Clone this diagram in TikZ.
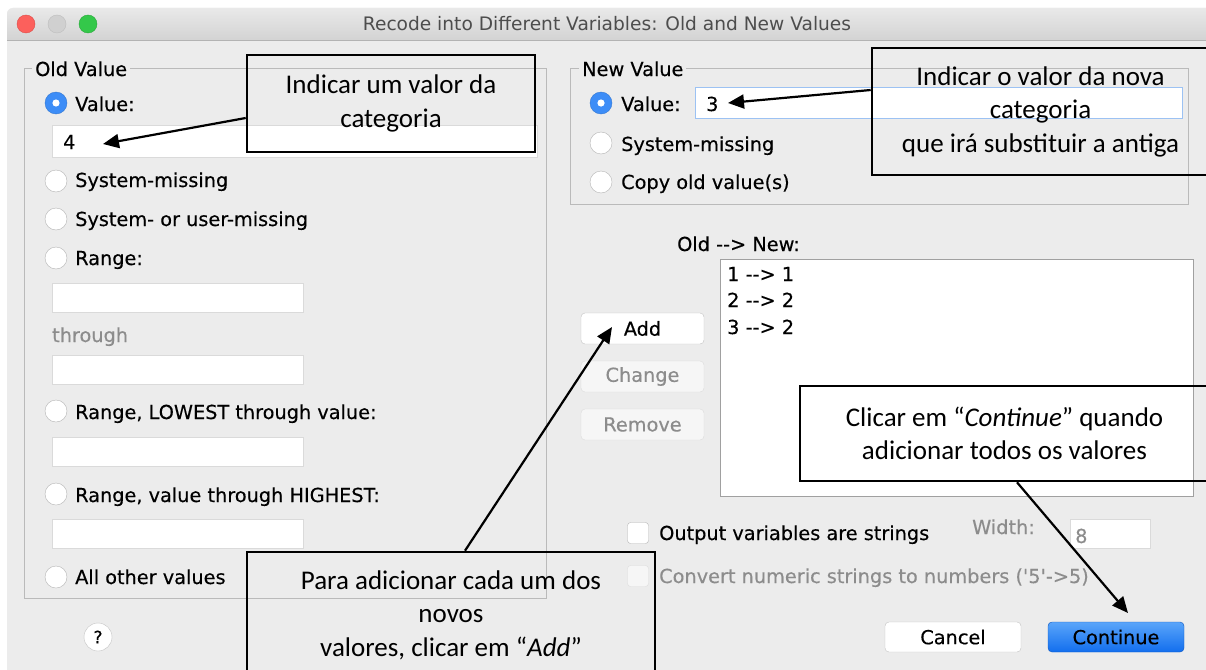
\documentclass[tikz,border=0pt]{standalone}
\usepackage{fontspec}
\newfontfamily\uifont{DejaVu Sans}[FakeBold=0.35]
\newfontfamily\titlefont{DejaVu Sans}
\newfontfamily\annfont{Carlito}
\usetikzlibrary{arrows.meta,calc}
\definecolor{winbg}{HTML}{ECECEC}
\definecolor{tbtop}{HTML}{E9E9E9}
\definecolor{tbbot}{HTML}{D3D3D3}
\definecolor{tbline}{HTML}{B3B3B3}
\definecolor{titlegray}{HTML}{4D4D4D}
\definecolor{framec}{HTML}{BABABA}
\definecolor{fieldb}{HTML}{DADADA}
\definecolor{focusb}{HTML}{9CC2F3}
\definecolor{radiob}{HTML}{B4B4B4}
\definecolor{selblue}{HTML}{3D8DF7}
\definecolor{btnb}{HTML}{C4C4C4}
\definecolor{disbg}{HTML}{F6F6F6}
\definecolor{disb}{HTML}{DCDCDC}
\definecolor{distext}{HTML}{8C8C8C}
\definecolor{listb}{HTML}{A0A0A0}
\definecolor{uitext}{HTML}{000000}
\definecolor{contop}{HTML}{5AA5FA}
\definecolor{conbot}{HTML}{126EEE}
\definecolor{lred}{HTML}{FC605C}
\definecolor{lredb}{HTML}{DE4C47}
\definecolor{lgray}{HTML}{D0D0D0}
\definecolor{lgrayb}{HTML}{BDBDBD}
\definecolor{lgreen}{HTML}{34C84A}
\definecolor{lgreenb}{HTML}{28A83A}
\begin{document}
\begin{tikzpicture}[x=1pt,y=-1pt,
  ui/.style={font=\uifont\fontsize{19.3}{22}\selectfont, text=uitext, inner sep=0pt, anchor=base west},
  uic/.style={font=\uifont\fontsize{19.3}{22}\selectfont, text=uitext, inner sep=0pt},
  grouplbl/.style={ui, fill=winbg, inner xsep=3pt},
  radio/.style={circle, draw=radiob, fill=white, minimum size=22pt, inner sep=0pt},
  radiosel/.style={circle, draw=selblue!85!black, fill=selblue, minimum size=22pt, inner sep=0pt},
  field/.style={draw=fieldb, fill=white, line width=1pt, anchor=north west, inner sep=0pt},
  btn/.style={uic, draw=btnb, fill=white, rounded corners=4pt, minimum width=123pt, minimum height=31pt},
  btndis/.style={btn, draw=disb, fill=disbg, text=distext},
  chk/.style={draw=radiob, fill=white, rounded corners=3pt, minimum size=21pt, inner sep=0pt},
  chkdis/.style={chk, draw=disb, fill=disbg},
  callout/.style={draw=black, line width=2.6pt, inner sep=0pt, align=center,
    font=\annfont\fontsize{27}{33.5}\selectfont},
  arr/.style={line width=2.2pt, -{Triangle[length=16pt,width=14pt]}}]
\useasboundingbox (0,0) rectangle (1206,669);
\fill[white] (0,0) rectangle (1206,669);
% window body and title bar
\fill[winbg, rounded corners=6pt] (7,8) rectangle (1222,690);
\shade[top color=tbtop, bottom color=tbbot] (7,40) [rounded corners=6pt] -- (7,8) -- (1222,8) [sharp corners] -- (1222,40) -- cycle;
\draw[tbline] (7,40.5) -- (1206,40.5);
\node[circle, fill=lred, draw=lredb, minimum size=18pt, inner sep=0pt] (close) at (26,24) {};
\node[circle, fill=lgray, draw=lgrayb, minimum size=18pt, inner sep=0pt] (mini) at (57,24) {};
\node[circle, fill=lgreen, draw=lgreenb, minimum size=18pt, inner sep=0pt] (zoom) at (88,24) {};
\node[inner sep=0pt, font=\titlefont\fontsize{18.6}{22}\selectfont, text=titlegray] (title) at (607,24) {Recode into Different Variables: Old and New Values};

% ---------- Old Value group ----------
\draw[framec] (24,68) rectangle (546,598);
\node[grouplbl] (oldlbl) at (32,76) {Old Value};
\node[radiosel] (rOldVal) at (56,103) {};
\fill[white] (rOldVal) circle (3.6);
\node[ui] (lOldVal) at (75,111) {Value:};
\node[field, minimum width=485pt, minimum height=32pt] (fOld) at (52,125) {};
\node[ui] (vOld) at (63,149) {4};
\node[radio] (rSys) at (56,181) {};
\node[ui] (lSys) at (75,187) {System-missing};
\node[radio] (rSysU) at (56,219) {};
\node[ui] (lSysU) at (75,226) {System- or user-missing};
\node[radio] (rRange) at (56,258) {};
\node[ui] (lRange) at (75,265) {Range:};
\node[field, minimum width=251pt, minimum height=29pt] (fR1) at (52,283) {};
\node[ui, text=distext] (lThrough) at (52,342) {through};
\node[field, minimum width=251pt, minimum height=29pt] (fR2) at (52,355) {};
\node[radio] (rLow) at (56,411) {};
\node[ui] (lLow) at (75,419) {Range, LOWEST through value:};
\node[field, minimum width=251pt, minimum height=29pt] (fLow) at (52,437) {};
\node[radio] (rHigh) at (56,494) {};
\node[ui] (lHigh) at (75,502) {Range, value through HIGHEST:};
\node[field, minimum width=251pt, minimum height=29pt] (fHigh) at (52,519) {};
\node[radio] (rAll) at (56,577) {};
\node[ui] (lAll) at (75,584) {All other values};
\node[circle, draw=btnb, fill=white, minimum size=28pt, inner sep=0pt,
  font=\uifont\fontsize{17}{19}\selectfont, text=uitext] (help) at (98,637) {?};

% ---------- New Value group ----------
\draw[framec] (570,68) rectangle (1188,204);
\node[grouplbl] (newlbl) at (579,76) {New Value};
\node[radiosel] (rNewVal) at (601,103) {};
\fill[white] (rNewVal) circle (3.6);
\node[ui] (lNewVal) at (621,111) {Value:};
\node[field, draw=focusb, minimum width=487pt, minimum height=31pt] (fNew) at (695,87) {};
\node[ui] (vNew) at (706,111) {3};
\node[radio] (rNSys) at (601,143) {};
\node[ui] (lNSys) at (621,151) {System-missing};
\node[radio] (rCopy) at (601,182) {};
\node[ui] (lCopy) at (621,189) {Copy old value(s)};

% ---------- Old --> New list ----------
\node[ui] (lList) at (677,251) {Old -\kern0pt-> New:};
\node[field, draw=listb, minimum width=473pt, minimum height=237pt] (list) at (720,259) {};
\node[ui] (e1) at (727,281) {1 -\kern0pt-> 1};
\node[ui] (e2) at (727,307) {2 -\kern0pt-> 2};
\node[ui] (e3) at (727,334) {3 -\kern0pt-> 2};
\node[btn] (bAdd) at (642.5,328.5) {Add};
\node[btndis] (bChange) at (642.5,376.5) {Change};
\node[btndis] (bRemove) at (642.5,424.5) {Remove};

% ---------- options ----------
\node[chk] (cOut) at (638,533) {};
\node[ui] (lOut) at (659,540) {Output variables are strings};
\node[chkdis] (cConv) at (638,576) {};
\node[ui, text=distext] (lConv) at (659,583) {Convert numeric strings to numbers (\symbol{39}5\symbol{39}-\kern0pt>5)};
\node[ui, text=distext] (lWidth) at (972,534) {Width:};
\node[field, minimum width=80pt, minimum height=29pt] (fWidth) at (1070,519) {};
\node[ui, text=distext] (vWidth) at (1075,543) {8};

% ---------- dialog buttons ----------
\node[btn, minimum width=136pt, minimum height=30pt] (bCancel) at (953,637) {Cancel};
\node[btn, draw=conbot!80!black, top color=contop, bottom color=conbot, minimum width=136pt, minimum height=30pt] (bCont) at (1116,637) {Continue};

% ---------- callouts ----------
\node[callout, minimum width=288pt, minimum height=97pt] (c1) at (391,103.5) {Indicar um valor da\\categoria};
\node[callout, minimum width=337pt, minimum height=127pt] (c2) at (1040.5,111.5) {Indicar o valor da nova\\categoria\\que irá substituir a antiga};
\node[callout, minimum width=409pt, minimum height=95pt] (c3) at (1004.5,433.5) {Clicar em “\textit{Continue}” quando\\adicionar todos os valores};
\node[callout, minimum width=408pt, minimum height=126pt] (c4) at (451,615) {Para adicionar cada um dos\\novos\\valores, clicar em “\textit{Add}”};

\coordinate (t1) at (103,144);
\coordinate (t2) at (728,103);
\coordinate (t3) at (1128,613);
\coordinate (t4) at (612,327);
\draw[arr] ([yshift=-14.5pt]c1.west) -- (t1);
\draw[arr] ([yshift=21.5pt]c2.west) -- (t2);
\draw[arr] ([xshift=12.5pt]c3.south) -- (t3);
\draw[arr] ([xshift=14pt]c4.north) -- (t4);
\end{tikzpicture}
\end{document}
